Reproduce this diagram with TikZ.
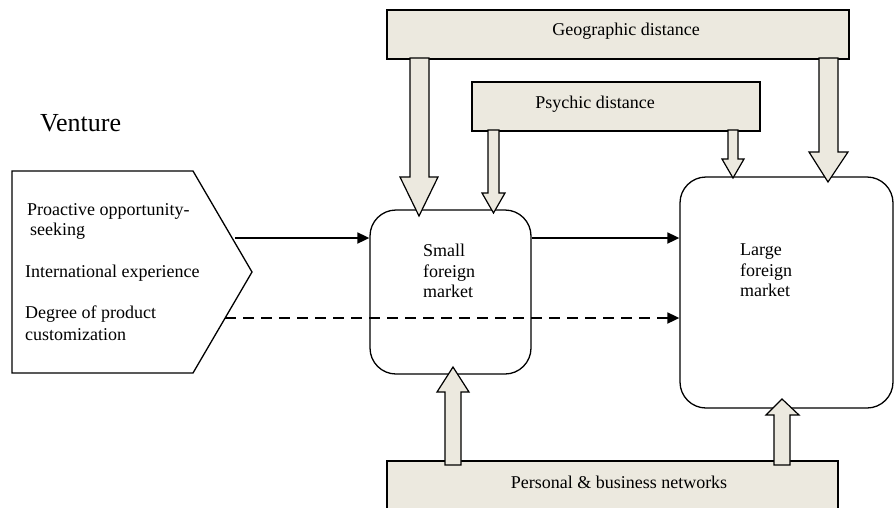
\documentclass[tikz,border=0pt]{standalone}
\usepackage{fontspec}
\setmainfont{Liberation Serif}
\usetikzlibrary{arrows.meta}
\definecolor{beige}{RGB}{236,233,223}
\begin{document}
\begin{tikzpicture}[x=1pt,y=-1pt,
  factorbox/.style={draw, fill=beige, line width=1.3pt, minimum width=#1, inner sep=0pt, minimum height=49pt},
  market/.style={draw, line width=1.3pt, rounded corners=26pt, inner sep=0pt},
  lbl/.style={font=\fontsize{18}{20.5}\selectfont, inner sep=0pt},
  blockarrow/.style={draw, fill=beige, line width=1.2pt, line join=miter},
  flow/.style={line width=1.8pt, -{Triangle[length=12pt,width=11pt]}},
  flowdash/.style={flow, dash pattern=on 11pt off 7pt}]
\useasboundingbox (0,0) rectangle (895,507);

% market boxes
\node[market, minimum width=161pt, minimum height=164pt] (small) at (450.5,292) {};
\node[market, minimum width=213pt, minimum height=231pt] (large) at (786.5,292.5) {};
\node[lbl, anchor=north west, align=left] (smallt) at (423,244) {Small\\foreign\\market};
\node[lbl, anchor=north west, align=left] (larget) at (740,244) {Large\\foreign\\market};

% factor boxes
\node[factorbox=462pt] (geo) at (618,34.5) {};
\node[lbl] (geot) at (626,31) {Geographic distance};
\node[factorbox=288pt] (psy) at (616,106.5) {};
\node[lbl] (psyt) at (595,104) {Psychic distance};
\node[factorbox=451pt, minimum height=50pt] (pers) at (612.5,486) {};
\node[lbl] (perst) at (619,482) {Personal \& business networks};

% venture
\draw[line width=1.3pt, line join=miter] (12,171) coordinate (v1) -- (193,171) -- (252,272) coordinate (vtip) -- (193,373) -- (12,373) -- cycle;
\node[font=\fontsize{26}{30}\selectfont, inner sep=0pt, anchor=base west] (vent) at (40,131) {Venture};
\node[lbl, anchor=base west] (f1a) at (27,215) {Proactive opportunity-};
\node[lbl, anchor=base west] (f1b) at (30,235) {seeking};
\node[lbl, anchor=base west] (f2) at (25,277) {International experience};
\node[lbl, anchor=base west] (f3a) at (25,318) {Degree of product};
\node[lbl, anchor=base west] (f3b) at (25,340) {customization};

% flows
\coordinate (vs) at (235,238);
\coordinate (vd) at (225,318);
\draw[flow] (vs) -- (vs -| small.west);
\draw[flow] (small.east |- vs) -- (large.west |- vs);
\draw[flowdash] (vd) -- (large.west |- vd);

% block arrows down from geographic distance
\draw[blockarrow] (410,58) -- (410,177) -- (400,177) -- (419,216) -- (438,177) -- (429,177) -- (429,58) -- cycle;
\draw[blockarrow] (819,58) -- (819,152) -- (809,152) -- (828,182) -- (848,152) -- (838,152) -- (838,58) -- cycle;
% from psychic distance
\draw[blockarrow] (488,130) -- (488,193) -- (482,193) -- (493.5,213) -- (505,193) -- (499,193) -- (499,130) -- cycle;
\draw[blockarrow] (728,130) -- (728,159) -- (722,159) -- (733,178) -- (744,159) -- (738,159) -- (738,130) -- cycle;
% up from networks
\draw[blockarrow] (445,465) -- (445,392) -- (437,392) -- (453,367) -- (469,392) -- (461,392) -- (461,465) -- cycle;
\draw[blockarrow] (774,465) -- (774,415) -- (766,415) -- (782,399) -- (799,415) -- (790,415) -- (790,465) -- cycle;
\end{tikzpicture}
\end{document}
